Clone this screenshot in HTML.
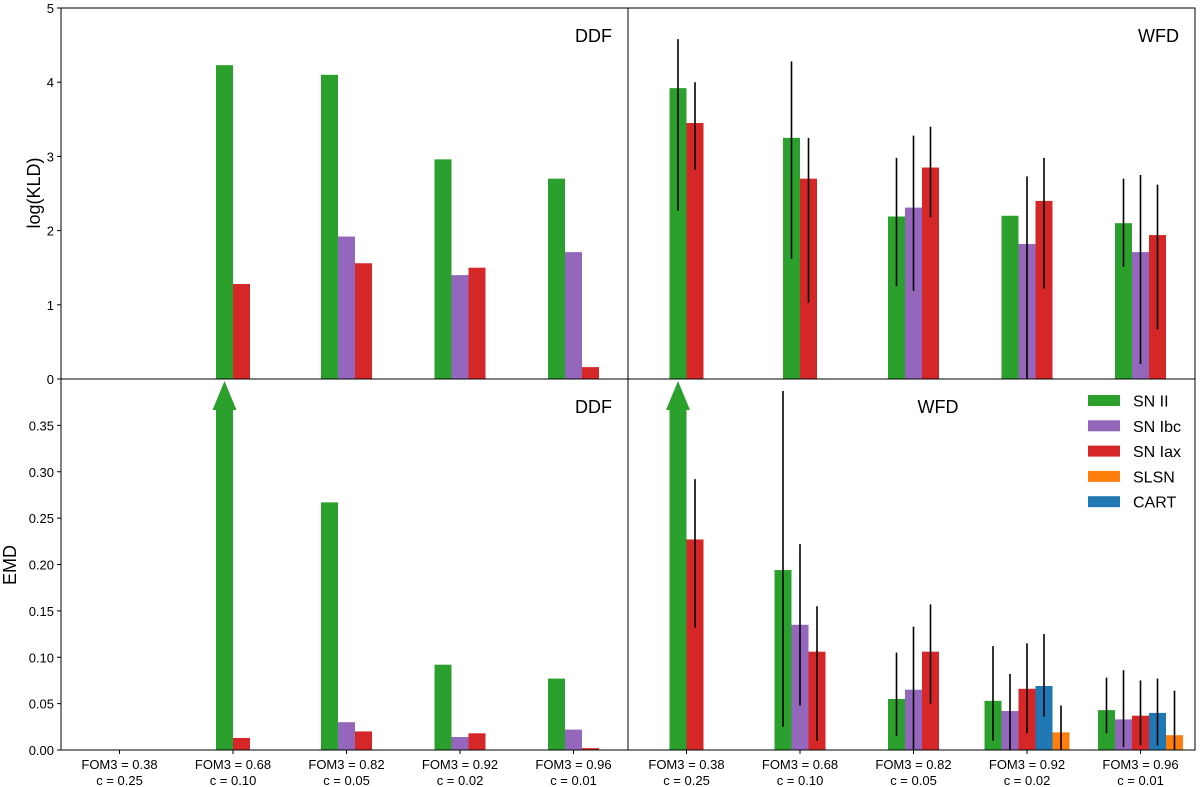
<!DOCTYPE html>
<html><head><meta charset="utf-8"><style>
body{margin:0;background:#fff;}
svg{display:block;font-family:"Liberation Sans","DejaVu Sans",sans-serif;}
</style></head><body>
<svg id="c" width="1200" height="787" xmlns="http://www.w3.org/2000/svg"></svg>
<script>
const categories = ["FOM3 = 0.38|c = 0.25","FOM3 = 0.68|c = 0.10","FOM3 = 0.82|c = 0.05","FOM3 = 0.92|c = 0.02","FOM3 = 0.96|c = 0.01"];
const seriesNames = ["SN II","SN Ibc","SN Iax","CART","SLSN"];
const seriesColors = ["#2ca02c","#9467bd","#d62728","#1f77b4","#ff7f0e"];
const legendOrder = [0,1,2,4,3];
const klTicks = [0,1,2,3,4,5];
const emdTicks = ["0.00","0.05","0.10","0.15","0.20","0.25","0.30","0.35"];
// 'A' = off-scale arrow
const ddfKld = [[null,null,null,null,null],[4.23,null,1.28,null,null],[4.10,1.92,1.56,null,null],[2.96,1.40,1.50,null,null],[2.70,1.71,0.16,null,null]];
const wfdKld = [[3.92,null,3.45,null,null],[3.25,null,2.70,null,null],[2.19,2.31,2.85,null,null],[2.20,1.82,2.40,null,null],[2.10,1.71,1.94,null,null]];
const wfdKldLo = [[2.27,null,2.82],[1.62,null,1.03],[1.25,1.19,2.18],[null,0.0,1.22],[1.51,0.20,0.67]];
const wfdKldHi = [[4.58,null,4.00],[4.28,null,3.25],[2.98,3.28,3.40],[null,2.73,2.98],[2.70,2.75,2.62]];
const ddfEmd = [[null,null,null,null,null],['A',null,0.013,null,null],[0.267,0.030,0.020,null,null],[0.092,0.014,0.018,null,null],[0.077,0.022,0.002,null,null]];
const wfdEmd = [['A',null,0.227,null,null],[0.194,0.135,0.106,null,null],[0.055,0.065,0.106,null,null],[0.053,0.042,0.066,0.069,0.019],[0.043,0.033,0.037,0.040,0.016]];
const wfdEmdLo = [[null,null,0.132,null,null],[0.025,0.048,0.010,null,null],[0.015,0.000,0.050,null,null],[0.010,0.000,0.018,0.036,0.000],[0.018,0.003,0.005,0.005,0.000]];
const wfdEmdHi = [[null,null,0.292,null,null],[0.387,0.222,0.155,null,null],[0.105,0.133,0.157,null,null],[0.112,0.082,0.115,0.125,0.048],[0.078,0.086,0.075,0.077,0.064]];

const svg=document.getElementById('c');
const NS='http://www.w3.org/2000/svg';
function mk(t,a,p){const e=document.createElementNS(NS,t);for(const k in a)e.setAttribute(k,a[k]);(p||svg).appendChild(e);return e;}
const L0=61,R0=628,R1=1195,T0=8,M=379,B0=750;
const BW=17;
function xTick(panelLeft,i){return panelLeft+58.5+i*113.5;}
const yK=v=>M-v*(M-T0)/5;
const yE=v=>B0-v*(B0-M)/0.4;

function panel(name){
  const g=mk('g',{});
  
  
  return g;
}
function drawBars(g,vals,lo,hi,px,ys,yTop,tag){
  vals.forEach((row,i)=>{
    const present=[];row.forEach((v,k)=>{if(v!==null)present.push(k);});
    const n=present.length;
    present.forEach((k,j)=>{
      const cx=xTick(px,i)+(j-(n-1)/2)*BW;
      const v=row[k];
      if(v==='A'){
        const r=mk('rect',{x:cx-BW/2,y:yTop+30,width:BW,height:ys(0)-yTop-30,fill:seriesColors[k]},g);
        
        
        const p=mk('polygon',{points:`${cx-12},${yTop+31} ${cx+12},${yTop+31} ${cx},${yTop+2}`,fill:seriesColors[k]},g);
        
        
      } else {
        const r=mk('rect',{x:cx-BW/2,y:ys(v),width:BW,height:ys(0)-ys(v),fill:seriesColors[k]},g);
        
        
      }
      if(lo&&lo[i]&&lo[i][k]!=null&&hi[i][k]!=null){
        const l=mk('line',{x1:cx,x2:cx,y1:ys(lo[i][k]),y2:ys(hi[i][k]),stroke:'#000','stroke-width':1.6},g);
        
        
      }
    });
  });
}
const g1=panel('ddf-kld-panel');
drawBars(g1,ddfKld,null,null,L0,yK,T0,'ddf-kld');
const g2=panel('wfd-kld-panel');
drawBars(g2,wfdKld,wfdKldLo,wfdKldHi,R0,yK,T0,'wfd-kld');
const g3=panel('ddf-emd-panel');
drawBars(g3,ddfEmd,null,null,L0,yE,M,'ddf-emd');
const g4=panel('wfd-emd-panel');
drawBars(g4,wfdEmd,wfdEmdLo,wfdEmdHi,R0,yE,M,'wfd-emd');

[[L0,T0,R0-L0,M-T0],[R0,T0,R1-R0,M-T0],[L0,M,R0-L0,B0-M],[R0,M,R1-R0,B0-M]].forEach(f=>{
  const r=mk('rect',{x:f[0],y:f[1],width:f[2],height:f[3],fill:'none',stroke:'#000','stroke-width':1});
  
  
});
[["DDF",R0-16,42],["WFD",R1-16,42],["DDF",R0-16,413],["WFD",938,413]].forEach((t,i)=>{
  const e=mk('text',{x:t[1],y:t[2],'font-size':18,'text-anchor':i==3?'middle':'end'});
  e.textContent=t[0];
  
  
});
klTicks.forEach(v=>{
  const y=yK(v);
  mk('line',{x1:L0-4,x2:L0,y1:y,y2:y,stroke:'#000'});
  const t=mk('text',{x:L0-7,y:y+5,'font-size':13,'text-anchor':'end'});t.textContent=v;
  
  
});
emdTicks.forEach(s=>{
  const y=yE(parseFloat(s));
  mk('line',{x1:L0-4,x2:L0,y1:y,y2:y,stroke:'#000'});
  const t=mk('text',{x:L0-7,y:y+5,'font-size':13,'text-anchor':'end'});t.textContent=s;
  
  
});
[L0,R0].forEach(px=>{
  categories.forEach((c,i)=>{
    const x=xTick(px,i);
    mk('line',{x1:x,x2:x,y1:B0,y2:B0+4,stroke:'#000'});
    c.split('|').forEach((p,j)=>{
      const t=mk('text',{x:x,y:B0+19+j*16,'font-size':13,'text-anchor':'middle'});t.textContent=p;
      
      
    });
  });
});
let t=mk('text',{x:0,y:0,'font-size':18,'text-anchor':'middle',transform:'translate(40,193) rotate(-90)'});t.textContent='log(KLD)';


t=mk('text',{x:0,y:0,'font-size':18,'text-anchor':'middle',transform:'translate(16,565) rotate(-90)'});t.textContent='EMD';


legendOrder.forEach((k,j)=>{
  const y=400.5+j*25.3;
  const r=mk('rect',{x:1088,y:y-5.5,width:32,height:11,fill:seriesColors[k]});
  
  
  const tx=mk('text',{x:1133,y:y+6,'font-size':16});tx.textContent=seriesNames[k];
  
  
});
</script>
</body></html>
